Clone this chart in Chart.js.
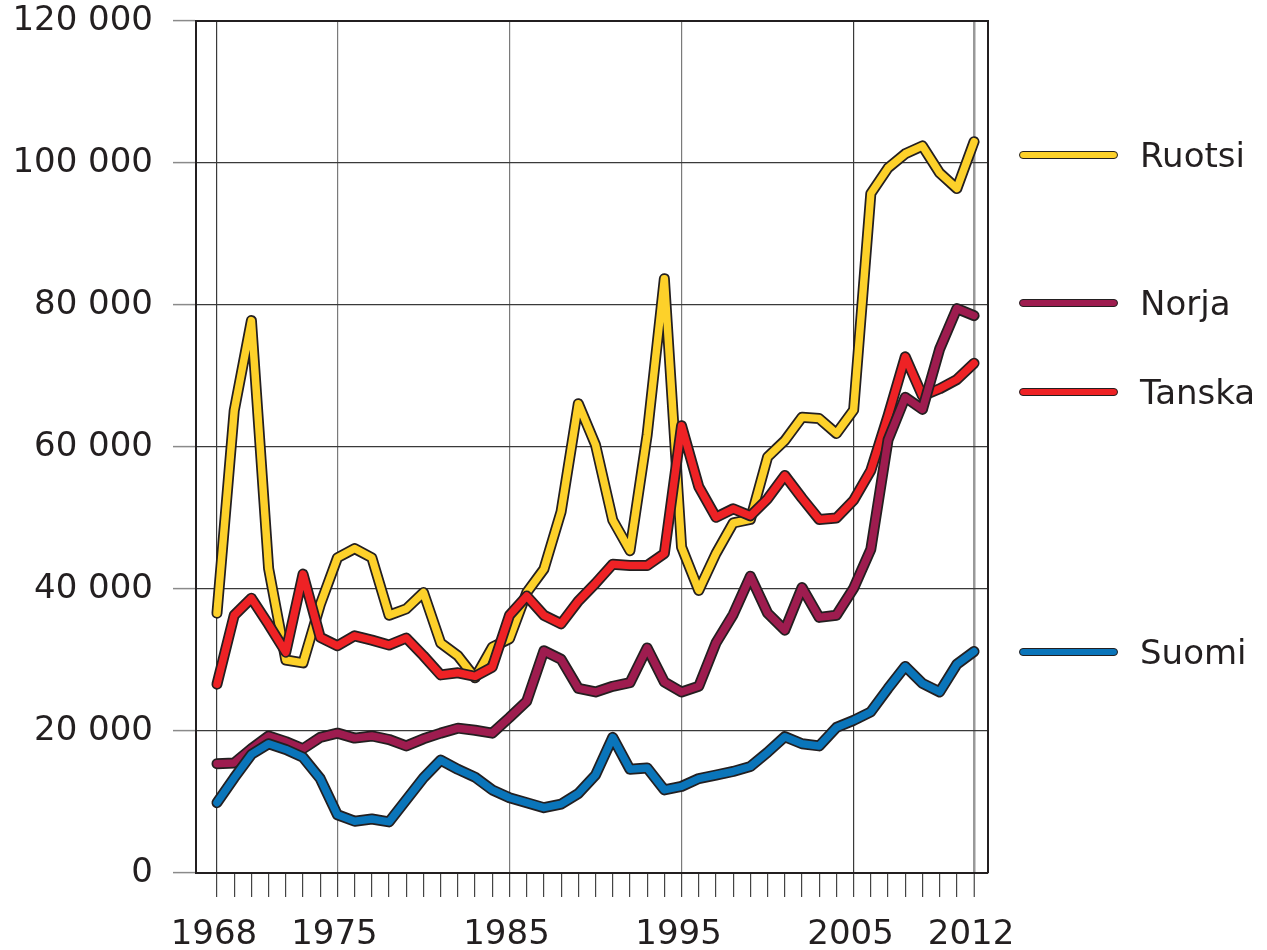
<!DOCTYPE html>
<html>
<head>
<meta charset="utf-8">
<script src="https://cdn.jsdelivr.net/npm/chart.js@4/dist/chart.umd.min.js"></script>
<style>
  html, body { margin: 0; padding: 0; background: #ffffff; }
  #wrap { position: relative; width: 1267px; height: 950px; }
  canvas { position: absolute; left: 0; top: 0; }
  .leg { position: absolute; left: 1019px; height: 40px; display: flex; align-items: center; }
  .leg .ln { width: 97px; height: 6px; border: 1.6px solid #231F20; border-radius: 5px; }
  .leg .tx { margin-left: 22px; font-family: "DejaVu Sans", Verdana, sans-serif; font-size: 34px; line-height: 40px; color: #231F20; }
</style>
</head>
<body>
<div id="wrap">
  <canvas id="c" width="1267" height="950"></canvas>
</div>
<script>
// ---- data ----
const years = [];
for (let y = 1968; y <= 2012; y++) years.push(y);

const labeledYears = [1968, 1975, 1985, 1995, 2005, 2012];
const yTicks = [0, 20000, 40000, 60000, 80000, 100000, 120000];

const ruotsi = [36600, 65100, 77800, 42900, 30000, 29600, 37800, 44400, 45700, 44400,
                36300, 37200, 39500, 32400, 30600, 27500, 31800, 33000, 39500, 42800,
                50900, 66100, 60300, 49700, 45400, 61700, 83700, 45900, 39800, 45000,
                49300, 49800, 58600, 60900, 64200, 64000, 61900, 65200, 95700, 99300,
                101300, 102400, 98600, 96400, 103000];
const norja = [15400, 15500, 17500, 19300, 18500, 17500, 19100, 19700, 19000, 19300,
               18800, 17900, 18900, 19700, 20400, 20100, 19700, 21900, 24200, 31300,
               30100, 26000, 25500, 26300, 26800, 31700, 26900, 25500, 26300, 32400,
               36400, 41800, 36600, 34200, 40200, 36000, 36300, 40100, 45600, 61000,
               67000, 65300, 73800, 79500, 78500];
const tanska = [26600, 36300, 38700, 35000, 31100, 42100, 33200, 32000, 33400, 32800,
                32100, 33100, 30600, 27900, 28200, 27700, 29000, 36300, 39000, 36300,
                35100, 38300, 40800, 43500, 43300, 43300, 45000, 63000, 54400, 50100,
                51300, 50300, 52700, 56000, 52800, 49800, 50000, 52500, 56700, 64400,
                72700, 67200, 68200, 69500, 71800];
const suomi = [9900, 13400, 16700, 18200, 17400, 16300, 13300, 8200, 7300, 7600,
               7200, 10300, 13400, 15900, 14600, 13500, 11700, 10600, 9900, 9200,
               9700, 11200, 13800, 19100, 14600, 14800, 11700, 12200, 13300, 13800,
               14300, 15000, 17000, 19200, 18200, 17900, 20500, 21500, 22700, 26000,
               29100, 26700, 25500, 29400, 31200];

const seriesNames = ["Ruotsi", "Norja", "Tanska", "Suomi"];
const seriesValues = [ruotsi, norja, tanska, suomi];
const seriesColors = ["#FDD12A", "#9E1C4F", "#EE2225", "#0A75BA"];
const drawRank = [3, 1, 2, 0]; // 0 = drawn on top
const legendY = [155, 303, 392, 652];

// ---- build datasets ----
const OUTLINE = "#231F20";
const datasets = [];
seriesValues.forEach((vals, i) => {
  const pts = years.map((yr, j) => ({ x: yr, y: vals[j] }));
  datasets.push({
    label: seriesNames[i] + "_outline",
    data: pts, borderColor: OUTLINE, borderWidth: 11,
    borderCapStyle: "round", borderJoinStyle: "round",
    pointRadius: 0, tension: 0, order: drawRank[i] * 2 + 1
  });
  datasets.push({
    label: seriesNames[i],
    data: pts, borderColor: seriesColors[i], borderWidth: 7.5,
    borderCapStyle: "round", borderJoinStyle: "round",
    pointRadius: 0, tension: 0, order: drawRank[i] * 2
  });
});

// ---- legend (HTML text) ----
const wrap = document.getElementById("wrap");
seriesNames.forEach((n, i) => {
  const d = document.createElement("div");
  d.className = "leg";
  d.style.top = (legendY[i] - 20) + "px";
  d.innerHTML = '<div class="ln" style="background:' + seriesColors[i] + '"></div><div class="tx">' + n + '</div>';
  wrap.appendChild(d);
});

const FONT = { family: "'DejaVu Sans', Verdana, sans-serif", size: 34 };

const frame = {
  id: "frame",
  beforeDatasetsDraw(chart) {
    const a = chart.chartArea, c = chart.ctx;
    c.save();
    c.strokeStyle = "#231F20";
    c.lineWidth = 2;
    c.beginPath();
    c.moveTo(a.left, a.top);
    c.lineTo(a.right, a.top);
    c.lineTo(a.right, a.bottom);
    c.stroke();
    c.restore();
  }
};

function xGridColor(ctx) {
  const v = ctx.tick && ctx.tick.value;
  if (v === 1968 || v === 2005) return "#3a3a3a";
  if (v === 1975 || v === 1985 || v === 1995) return "#7a7a7a";
  if (v === 2012) return "#999999";
  return "rgba(0,0,0,0)";
}

new Chart(document.getElementById("c"), {
  type: "line",
  data: { datasets },
  plugins: [frame],
  options: {
    responsive: false,
    animation: false,
    events: [],
    layout: { padding: { left: 0, top: 21, right: 279, bottom: 0 } },
    plugins: { legend: { display: false }, tooltip: { enabled: false } },
    scales: {
      x: {
        type: "linear",
        min: 1966.78,
        max: 2012.81,
        afterBuildTicks(scale) { scale.ticks = years.map(v => ({ value: v })); },
        afterFit(scale) { scale.height = 77; scale.paddingLeft = 0; scale.paddingRight = 0; },
        ticks: {
          autoSkip: false, maxRotation: 0, minRotation: 0,
          padding: 18,
          labelOffset: -3,
          font: FONT, color: "#231F20",
          callback: (v) => labeledYears.includes(v) ? String(v) : ""
        },
        grid: {
          color: xGridColor,
          lineWidth: (ctx) => (ctx.tick && ctx.tick.value === 2012) ? 2.5 : 1.2,
          tickColor: "#444444",
          tickWidth: 1.2,
          tickLength: 24,
          drawTicks: true
        },
        border: { display: true, color: "#231F20", width: 2 }
      },
      y: {
        min: 0, max: 120000,
        afterBuildTicks(scale) { scale.ticks = yTicks.map(v => ({ value: v })); },
        afterFit(scale) { scale.width = 196; scale.paddingTop = 0; scale.paddingBottom = 0; },
        ticks: {
          padding: 20,
          font: FONT, color: "#231F20",
          callback: (v) => String(v).replace(/\B(?=(\d{3})+(?!\d))/g, " ")
        },
        grid: {
          color: "#3a3a3a",
          lineWidth: 1.2,
          tickColor: "#8a8a8a",
          tickWidth: 1.5,
          tickLength: 23
        },
        border: { display: true, color: "#231F20", width: 2 }
      }
    }
  }
});
</script>
</body>
</html>
